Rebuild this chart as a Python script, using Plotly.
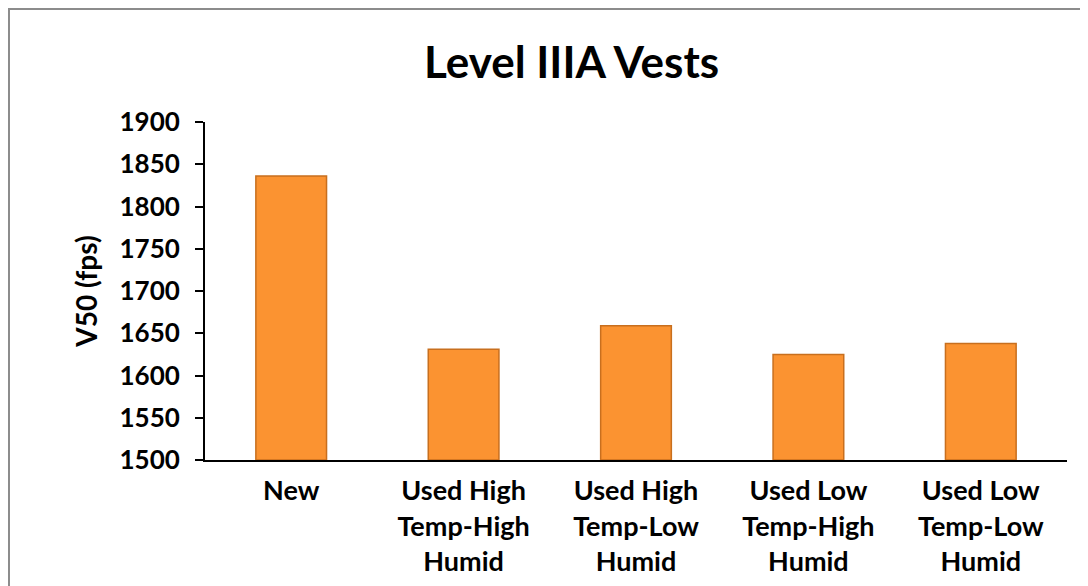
import plotly.graph_objects as go

categories = ["New", "Used High<br>Temp-High<br>Humid", "Used High<br>Temp-Low<br>Humid",
              "Used Low<br>Temp-High<br>Humid", "Used Low<br>Temp-Low<br>Humid"]
v50 = [1836, 1631, 1659, 1625, 1638]
y_ticks = [1500, 1550, 1600, 1650, 1700, 1750, 1800, 1850, 1900]
base_value = 1500

font_family = "Lato, 'Open Sans', sans-serif"

fig = go.Figure()
fig.add_trace(go.Bar(
    x=categories,
    y=[v - base_value for v in v50],
    base=base_value,
    marker=dict(color="#FB9331", line=dict(color="#C86F1E", width=1.5)),
    width=0.41,
    showlegend=False,
))

fig.update_layout(
    width=1088,
    height=586,
    paper_bgcolor="white",
    plot_bgcolor="white",
    margin=dict(l=197, r=29, t=114, b=134),
    title=dict(text="Level IIIA Vests", x=0.518, xanchor="center",
               y=0.906, yanchor="middle",
               font=dict(family=font_family, size=44, color="black", weight="bold")),
    font=dict(family=font_family, color="black"),
    xaxis=dict(
        showline=True, linecolor="black", linewidth=2,
        ticks="", tickfont=dict(size=27, family=font_family, weight="bold"),
        ticklabelstandoff=6,
        showgrid=False, automargin=False,
    ),
    yaxis=dict(
        range=[1500, 1900], tickvals=y_ticks,
        showline=True, linecolor="black", linewidth=2,
        ticks="outside", ticklen=8, tickwidth=2, tickcolor="black",
        tickfont=dict(size=26, family=font_family, weight="bold"),
        ticklabelstandoff=10,
        showgrid=False, zeroline=False, automargin=False,
        title=dict(text="V50 (fps)", font=dict(size=28, family=font_family, weight="bold"),
                   standoff=14),
    ),
    shapes=[dict(type="rect", xref="paper", yref="paper",
                 x0=-0.2274, x1=1.05, y0=-0.45, y1=1.334,
                 line=dict(color="#8C8C8C", width=2), layer="below")],
)

fig.write_html("out.html")
